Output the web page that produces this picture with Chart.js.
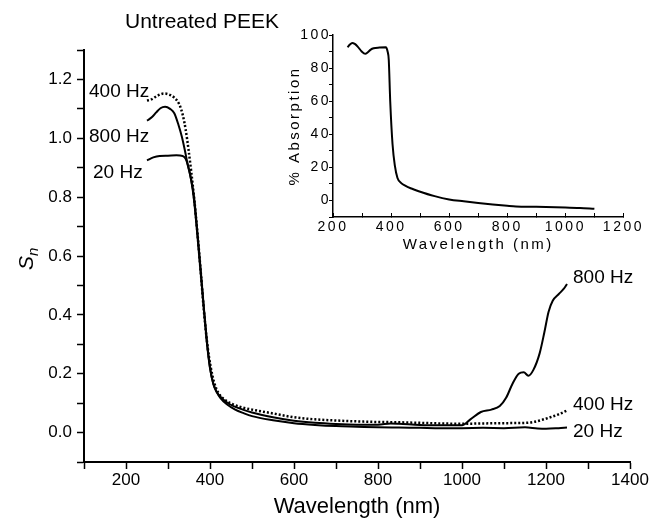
<!DOCTYPE html>
<html>
<head>
<meta charset="utf-8">
<script src="https://cdn.jsdelivr.net/npm/chart.js@4.4.1/dist/chart.umd.min.js"></script>
<style>
  body { margin: 0; background: #fff; }
  #wrap { position: relative; width: 650px; height: 520px; background: #fff; }
  #main { position: absolute; left: 0; top: 0; }
  #inset { position: absolute; left: 270px; top: 20px; }
</style>
</head>
<body>
<div id="wrap">
  <canvas id="main" width="650" height="520"></canvas>
  <canvas id="inset" width="380" height="245"></canvas>
</div>
<script>
const FONT = '"Liberation Sans", Arial, Helvetica, sans-serif';

// main panel: normalised signal S_n vs wavelength (nm)
const wl20 = [250, 265, 280, 300, 320, 335, 342, 348, 355, 362, 370, 378, 385, 392, 400, 408, 416, 425, 440, 460, 480, 500, 550, 600, 650, 700, 750, 800, 850, 900, 950, 1000, 1050, 1100, 1150, 1180, 1200, 1230, 1250];
const s20 = [0.925, 0.935, 0.940, 0.941, 0.942, 0.940, 0.930, 0.905, 0.860, 0.800, 0.680, 0.550, 0.430, 0.320, 0.220, 0.165, 0.138, 0.117, 0.096, 0.078, 0.066, 0.056, 0.042, 0.032, 0.026, 0.022, 0.020, 0.018, 0.017, 0.016, 0.015, 0.015, 0.016, 0.015, 0.018, 0.014, 0.013, 0.015, 0.017];

const wl800 = [250, 262, 272, 282, 293, 305, 315, 325, 333, 340, 347, 355, 362, 370, 378, 386, 393, 400, 408, 416, 428, 445, 470, 500, 550, 600, 650, 700, 750, 800, 830, 850, 900, 950, 1000, 1020, 1045, 1070, 1090, 1105, 1120, 1135, 1147, 1158, 1170, 1185, 1196, 1206, 1216, 1230, 1242, 1250];
const s800 = [1.060, 1.072, 1.088, 1.102, 1.107, 1.100, 1.085, 1.045, 1.005, 0.960, 0.910, 0.860, 0.790, 0.670, 0.540, 0.410, 0.300, 0.220, 0.165, 0.138, 0.117, 0.098, 0.082, 0.068, 0.052, 0.040, 0.033, 0.029, 0.027, 0.027, 0.031, 0.030, 0.026, 0.025, 0.025, 0.045, 0.070, 0.078, 0.090, 0.118, 0.165, 0.200, 0.205, 0.193, 0.213, 0.270, 0.340, 0.410, 0.448, 0.470, 0.488, 0.505];

const wl400 = [250, 260, 275, 290, 300, 315, 327, 335, 342, 349, 355, 362, 370, 378, 386, 394, 402, 410, 420, 435, 455, 475, 500, 550, 600, 650, 700, 750, 800, 850, 900, 950, 1000, 1050, 1100, 1150, 1170, 1190, 1210, 1230, 1250];
const s400 = [1.128, 1.132, 1.145, 1.152, 1.150, 1.138, 1.115, 1.080, 1.030, 0.960, 0.890, 0.800, 0.680, 0.545, 0.405, 0.295, 0.220, 0.170, 0.135, 0.112, 0.096, 0.086, 0.078, 0.065, 0.052, 0.045, 0.041, 0.038, 0.036, 0.035, 0.033, 0.031, 0.030, 0.031, 0.032, 0.033, 0.036, 0.043, 0.052, 0.062, 0.075];

// inset: % absorption vs wavelength (nm)
const wlAbs = [250, 258, 266, 275, 285, 298, 311, 320, 330, 340, 360, 382, 388, 392, 397, 405, 413, 422, 435, 450, 470, 495, 550, 600, 650, 700, 750, 800, 830, 900, 1000, 1050, 1100];
const absorb = [92.6, 94.2, 95.2, 94.6, 93.0, 90.2, 88.6, 89.6, 91.2, 92.0, 92.4, 92.6, 90.0, 85.0, 60.0, 34.0, 21.0, 13.6, 10.5, 8.8, 7.2, 5.6, 2.6, 0.6, -0.5, -1.5, -2.4, -3.2, -3.6, -3.8, -4.2, -4.5, -5.0];

// text placed on the main panel (pixel positions)
const curveLabels = [
  { text: '400 Hz', x: 89, y: 92 },
  { text: '800 Hz', x: 89, y: 137 },
  { text: '20 Hz', x: 93, y: 173 },
  { text: '800 Hz', x: 573, y: 278 },
  { text: '400 Hz', x: 573, y: 405 },
  { text: '20 Hz', x: 573, y: 432 },
];

function pts(xs, ys) {
  return xs.map((x, i) => ({ x: x, y: ys[i] }));
}

const mainText = {
  id: 'mainText',
  afterDraw(chart) {
    const ctx = chart.ctx;
    ctx.save();
    ctx.fillStyle = '#000';
    ctx.textAlign = 'left';
    ctx.textBaseline = 'middle';
    ctx.font = '21px ' + FONT;
    ctx.fillText('Untreated PEEK', 125, 22);
    ctx.font = '19px ' + FONT;
    curveLabels.forEach(l => ctx.fillText(l.text, l.x, l.y));

    // y title: italic S with subscript n
    ctx.translate(33, 259);
    ctx.rotate(-Math.PI / 2);
    ctx.textBaseline = 'alphabetic';
    ctx.font = 'italic 21px ' + FONT;
    const sw = ctx.measureText('S').width;
    ctx.fillText('S', -11, 0);
    ctx.font = 'italic 15px ' + FONT;
    ctx.fillText('n', -11 + sw, 5);
    ctx.restore();
  }
};

const lineBase = {
  borderColor: '#000',
  pointRadius: 0,
  fill: false,
  cubicInterpolationMode: 'monotone',
};

new Chart(document.getElementById('main'), {
  type: 'line',
  data: {
    datasets: [
      Object.assign({ label: '20 Hz', data: pts(wl20, s20), borderWidth: 2 }, lineBase),
      Object.assign({ label: '800 Hz', data: pts(wl800, s800), borderWidth: 2 }, lineBase),
      Object.assign({ label: '400 Hz', data: pts(wl400, s400), borderWidth: 2.5, borderDash: [2, 2] }, lineBase),
    ],
  },
  options: {
    responsive: false,
    animation: false,
    layout: { padding: { top: 50, right: 20, left: 0, bottom: 0 } },
    plugins: { legend: { display: false }, tooltip: { enabled: false } },
    scales: {
      x: {
        type: 'linear',
        min: 100,
        max: 1400,
        afterFit(scale) { scale.height = 58; },
        ticks: {
          stepSize: 100,
          autoSkip: false,
          maxRotation: 0,
          padding: 1,
          color: '#000',
          font: { family: FONT, size: 17 },
          callback: (v) => (v % 200 === 0 ? String(v) : ''),
        },
        grid: { drawOnChartArea: false, tickLength: 7, tickWidth: 1.5, tickColor: '#000' },
        border: { color: '#000', width: 2 },
        title: {
          display: true,
          text: 'Wavelength (nm)',
          color: '#000',
          font: { family: FONT, size: 22 },
          padding: { top: 0, bottom: 0 },
        },
      },
      y: {
        type: 'linear',
        min: -0.1,
        max: 1.3,
        afterFit(scale) { scale.width = 84; },
        ticks: {
          stepSize: 0.1,
          autoSkip: false,
          padding: 5,
          color: '#000',
          font: { family: FONT, size: 17 },
          callback(v) {
            const k = Math.round(v * 10);
            return (k >= 0 && k <= 12 && k % 2 === 0) ? (k / 10).toFixed(1) : '';
          },
        },
        grid: { drawOnChartArea: false, tickLength: 7, tickWidth: 1.5, tickColor: '#000' },
        border: { color: '#000', width: 2 },
      },
    },
  },
  plugins: [mainText],
});

// inset text is widely spaced in the original
const spaced = {
  id: 'spaced',
  beforeUpdate(chart) { chart.ctx.letterSpacing = '2.5px'; },
  beforeDraw(chart) { chart.ctx.letterSpacing = '2.5px'; },
};

new Chart(document.getElementById('inset'), {
  type: 'line',
  data: {
    datasets: [
      Object.assign({ label: '% Absorption', data: pts(wlAbs, absorb), borderWidth: 2 }, lineBase),
    ],
  },
  options: {
    responsive: false,
    animation: false,
    layout: { padding: { top: 15, right: 23, left: 0, bottom: 0 } },
    plugins: { legend: { display: false }, tooltip: { enabled: false } },
    scales: {
      x: {
        type: 'linear',
        min: 200,
        max: 1200,
        afterFit(scale) { scale.height = 48; },
        ticks: {
          stepSize: 100,
          autoSkip: false,
          maxRotation: 0,
          padding: 6,
          color: '#000',
          font: { family: FONT, size: 14 },
          callback: (v) => (v % 200 === 0 ? String(v) : ''),
        },
        // negative length: tick marks point into the plot, as in the original inset
        grid: { drawOnChartArea: false, tickLength: -4, tickWidth: 1, tickColor: '#000' },
        border: { color: '#000', width: 1.5 },
        title: {
          display: true,
          text: 'Wavelength (nm)',
          color: '#000',
          font: { family: FONT, size: 15 },
          padding: { top: 0, bottom: 11 },
        },
      },
      y: {
        type: 'linear',
        min: -10,
        max: 100,
        afterFit(scale) { scale.width = 63; },
        ticks: {
          stepSize: 10,
          autoSkip: false,
          padding: -2,
          color: '#000',
          font: { family: FONT, size: 14 },
          callback: (v) => ((v >= 0 && v % 20 === 0) ? String(v) : ''),
        },
        grid: { drawOnChartArea: false, tickLength: 4, tickWidth: 1, tickColor: '#000' },
        border: { color: '#000', width: 1.5 },
        title: {
          display: true,
          text: '% Absorption',
          color: '#000',
          font: { family: FONT, size: 15 },
          padding: { top: 16, bottom: 0 },
        },
      },
    },
  },
  plugins: [spaced],
});
</script>
</body>
</html>
